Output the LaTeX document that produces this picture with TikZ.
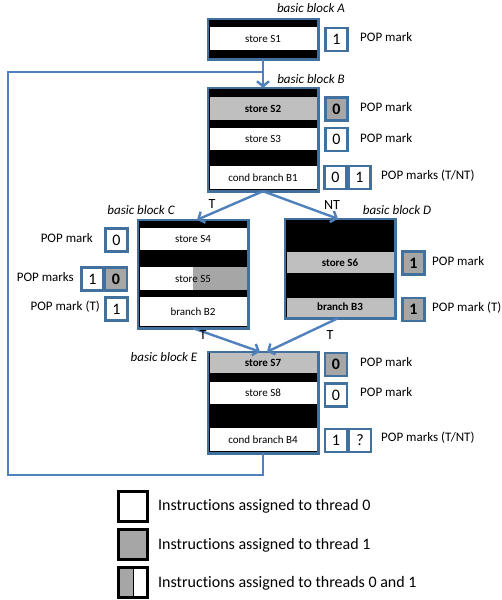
\documentclass[tikz,border=0pt]{standalone}
\usepackage{fontspec}
\setmainfont{Carlito}[RawFeature={-liga;-clig;-dlig;-calt}]
\usetikzlibrary{arrows.meta}
\definecolor{frameblue}{HTML}{41719C}
\definecolor{flowblue}{HTML}{4F81BD}
\definecolor{rowgrey}{HTML}{BFBFBF}
\definecolor{markgrey}{HTML}{A6A6A6}
\tikzset{
  blockbg/.style={fill=black, draw=none, inner sep=0pt, minimum width=110pt},
  frameline/.style={draw=frameblue, line width=2.6pt},
  rowW/.style={fill=white, inner sep=0pt, minimum width=107pt, font=\fontsize{11}{12}\selectfont},
  rowG/.style={rowW, fill=rowgrey, font=\fontsize{11}{12}\selectfont\bfseries},
  markW/.style={draw=frameblue, line width=2.4pt, fill=white, inner sep=0pt, minimum width=22pt, minimum height=23pt, font=\fontsize{16}{16}\selectfont},
  markG/.style={markW, fill=markgrey, font=\fontsize{16}{16}\selectfont\bfseries},
  poptext/.style={anchor=west, inner sep=0pt, font=\fontsize{13}{14}\selectfont},
  poptextL/.style={anchor=east, inner sep=0pt, font=\fontsize{13}{14}\selectfont},
  bblabel/.style={inner sep=0pt, font=\fontsize{13}{14}\selectfont\itshape},
  edgelabel/.style={inner sep=0pt, font=\fontsize{14}{15}\selectfont},
  flow/.style={draw=flowblue, line width=2.4pt},
  flowarrow/.style={flow, -{Straight Barb[length=5pt,width=12pt,line width=2.4pt]}},
  legbox/.style={draw=black, line width=3pt, inner sep=0pt, minimum width=29pt, minimum height=30pt},
  legtext/.style={anchor=west, inner sep=0pt, font=\fontsize{16}{17}\selectfont}
}
\begin{document}
\begin{tikzpicture}[x=1pt, y=-1pt]
\fill[white] (0,0) rectangle (501,600);
\useasboundingbox (0,0) rectangle (501,600);

% ---------- basic block A ----------
\node[bblabel] (labA) at (311,8) {basic block A};
\node[blockbg, minimum height=40pt] (A) at (263,39) {};
\node[rowW, minimum height=23pt] (s1) at (263,38.5) {store S1};
\draw[frameline] (A.north west) rectangle (A.south east);
\node[markW] (mA) at (336.5,39.5) {1};
\node[poptext] (pA) at (360,37) {POP mark};

% ---------- basic block B ----------
\node[bblabel] (labB) at (311,79) {basic block B};
\node[blockbg, minimum height=103pt] (B) at (263,139.5) {};
\node[rowG, minimum height=23pt] (s2) at (263,108.5) {store S2};
\node[rowW, minimum height=22pt] (s3) at (263,139) {store S3};
\node[rowW, minimum height=23pt] (b1) at (263,177.5) {cond branch B1};
\draw[frameline] (B.north west) rectangle (B.south east);
\node[markG] (mB2) at (336.5,109) {0};
\node[markW] (mB3) at (336.5,139.5) {0};
\node[markW] (mB1a) at (335.5,177.5) {0};
\node[markW] (mB1b) at (359.5,177.5) {1};
\node[poptext] (pB2) at (360,107) {POP mark};
\node[poptext] (pB3) at (360,138) {POP mark};
\node[poptext] (pB1) at (381,176) {POP marks (T/NT)};

% ---------- basic block C ----------
\node[bblabel] (labC) at (141,210) {basic block C};
\node[blockbg, minimum height=108pt] (C) at (193,274) {};
\node[rowW, minimum height=22pt] (s4) at (193,239) {store S4};
\fill[white] (139.5,267) rectangle (193,290);
\fill[markgrey] (193,267) rectangle (246.5,290);
\node[inner sep=0pt, font=\fontsize{11}{12}\selectfont] (s5) at (193,278.5) {store S5};
\node[rowW, minimum height=29pt] (b2) at (193,311.5) {branch B2};
\draw[frameline] (C.north west) rectangle (C.south east);
\node[markW] (mC4) at (116.5,240) {0};
\node[markW] (mC5a) at (92.5,279) {1};
\node[markG] (mC5b) at (116,279) {0};
\node[markW] (mC2) at (116.5,309) {1};
\node[poptextL] (pC4) at (93,238) {POP mark};
\node[poptextL] (pC5) at (74,277) {POP marks};
\node[poptextL] (pC2) at (100,307) {POP mark (T)};

% ---------- basic block D ----------
\node[bblabel] (labD) at (397,210) {basic block D};
\node[blockbg, minimum height=99pt] (D) at (340,268.5) {};
\node[rowG, minimum height=21pt] (s6) at (340,262.5) {store S6};
\node[rowG, minimum height=19pt] (b3) at (340,307) {branch B3};
\draw[frameline] (D.north west) rectangle (D.south east);
\node[markG] (mD6) at (413.5,263) {1};
\node[markG] (mD3) at (413.5,309.5) {1};
\node[poptext] (pD6) at (432,261) {POP mark};
\node[poptext] (pD3) at (432,308) {POP mark (T)};

% ---------- basic block E ----------
\node[bblabel] (labE) at (164,357) {basic block E};
\node[blockbg, minimum height=101pt] (E) at (263,402.5) {};
\node[rowG, minimum height=21pt] (s7) at (263,362.5) {store S7};
\node[rowW, minimum height=22pt] (s8) at (263,393) {store S8};
\node[rowW, minimum height=23pt] (b4) at (263,439.5) {cond branch B4};
\draw[frameline] (E.north west) rectangle (E.south east);
\node[markG] (mE7) at (336,364.5) {0};
\node[markW] (mE8) at (336,395) {0};
\node[markW] (mE4a) at (336,440.5) {1};
\node[markW] (mE4b) at (360,440.5) {?};
\node[poptext] (pE7) at (360,362) {POP mark};
\node[poptext] (pE8) at (360,392) {POP mark};
\node[poptext] (pE4) at (381,438) {POP marks (T/NT)};

% ---------- control flow ----------
\coordinate (join) at (263,72);
\coordinate (loopbl) at (8,475);
\draw[flowarrow] (A.south) -- (B.north);
\draw[flow] (E.south) |- (loopbl) |- (join);
\draw[flowarrow] (B.south) -- ([xshift=4pt]C.north);
\draw[flowarrow] (B.south) -- ([xshift=-2pt]D.north);
\draw[flowarrow] (C.south) -- ([xshift=-3pt]E.north);
\draw[flowarrow] ([xshift=-2pt]D.south) -- ([xshift=4pt]E.north);
\node[edgelabel] (tC) at (212,204) {T};
\node[edgelabel] (ntD) at (332,205) {NT};
\node[edgelabel] (tCE) at (203,335) {T};
\node[edgelabel] (tDE) at (330,335) {T};

% ---------- legend ----------
\node[legbox, fill=white] (l0) at (133,506.5) {};
\node[legbox, fill=markgrey] (l1) at (133,544.5) {};
\fill[markgrey] (118.5,568.5) rectangle (133,596.5);
\node[legbox] (l2) at (133,582.5) {};
\draw[black, line width=1pt] (133,568.5) -- (133,596.5);
\node[legtext] (t0) at (158,506) {Instructions assigned to thread 0};
\node[legtext] (t1) at (158,545) {Instructions assigned to thread 1};
\node[legtext] (t2) at (158,583) {Instructions assigned to threads 0 and 1};
\end{tikzpicture}
\end{document}
